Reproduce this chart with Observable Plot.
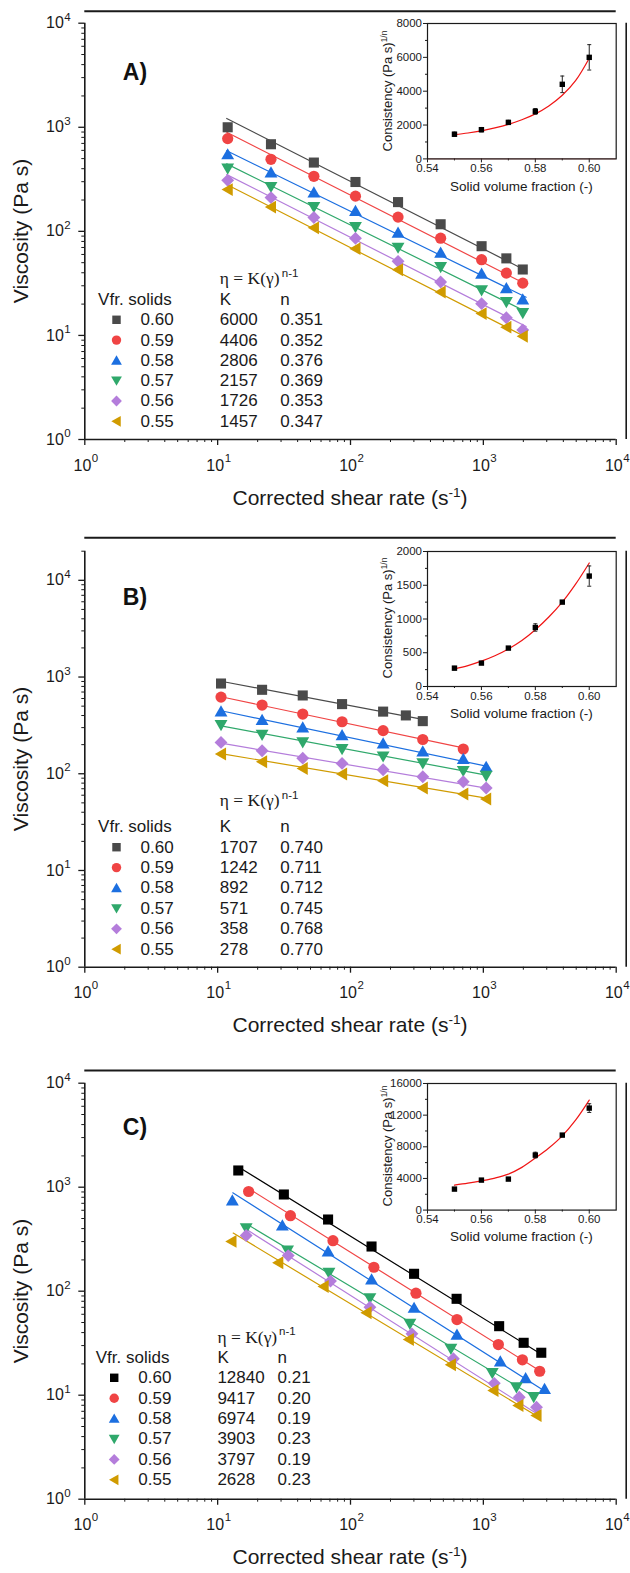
<!DOCTYPE html>
<html><head><meta charset="utf-8">
<script src="https://cdn.jsdelivr.net/npm/d3@7"></script>
<script src="https://cdn.jsdelivr.net/npm/@observablehq/plot@0.6"></script>
<style>
body{margin:0;background:#fff;}
#root{position:relative;width:630px;height:1573px;overflow:hidden;font-family:"Liberation Sans",Arial,sans-serif;color:#1a1a1a;}
.abs{position:absolute;white-space:nowrap;line-height:1;}
.abs sup{font-size:0.65em;vertical-align:0.55em;line-height:0;}
.plotbox{position:absolute;}
</style></head><body><div id="root"></div>
<script>
// ---------- shared categories / ticks ----------
const fractions = ["0.60","0.59","0.58","0.57","0.56","0.55"];
const insetFractions = [0.55,0.56,0.57,0.58,0.59,0.60];
const insetFitX = [0.55,0.555,0.56,0.565,0.57,0.575,0.58,0.585,0.59,0.595,0.60];
const xMajorTicks = [1,10,100,1000,10000];
const yMajorTicks = [1,10,100,1000,10000];
const insetXTicks = [0.54,0.56,0.58,0.60];
const insetXMinor = [0.55,0.57,0.59];
const colorsAB = ["#4a4a4a","#f04444","#1c6fe0","#2fa86b","#b47ddb","#d09b00"];
const colorsC  = ["#000000","#f04444","#1c6fe0","#2fa86b","#b47ddb","#d09b00"];

// ---------- Panel A ----------
const shearA = [11.9,25.2,53,109,228,477,970,1490,1980];
const viscA = [
  [1000,687,458,298,191,117,72,55,43],
  [778,492,338,218,137,86,53.4,39.7,31.8],
  [550,369,237,157,97,62.4,39.2,28.5,22.2],
  [401,267,171,110,69.7,45.4,27.1,20.9,16.4],
  [309,211,136,85.7,51.5,32.6,20.2,14.8,11.3],
  [252,171,108,68.2,42.8,26.1,16.2,12.0,9.8]
];
const fitA_x0 = [11.7,11.7,11.7,11.7,11.7,11.7];
const fitA_x1 = [2100,2100,2100,2100,2100,2100];
const fitA_y0 = [1216,895,595,445,351,282];
const fitA_y1 = [41.9,31.0,23.3,16.9,12.2,9.6];
const kA = ["6000","4406","2806","2157","1726","1457"];
const nA = ["0.351","0.352","0.376","0.369","0.353","0.347"];
const insetA_y = [1457,1726,2157,2806,4406,6000];
const insetA_err = [120,130,120,170,490,750];
const insetA_fit = [1430,1530,1660,1830,2040,2310,2660,3130,3760,4640,5950];
const insetA_yTicks = [0,2000,4000,6000,8000];
const insetA_yMinor = [1000,3000,5000,7000];

// ---------- Panel B ----------
const shearB_first = [10.6,21.6,43.7,86.4,176,261,350];
const shearB = [10.6,21.6,43.7,86.4,176,350,706,1050];
const viscB = [
  [857,738,645,525,439,401,350],
  [620,513,414,345,279,226,180],
  [440,361,301,251,206,170,142,118],
  [318,253,211,180,151,128,107,95.3],
  [211,173,145,128,110,93,82.6,71.2],
  [160,133,113.5,99.3,84.7,71.2,61.7,54.8]
];
const fitB_x0 = [10.6,10.6,10.6,10.6,10.6,10.6];
const fitB_x1 = [350,706,1050,1050,1050,1050];
const fitB_y0 = [905,625,448,313,207,161.5];
const fitB_y1 = [365,185,120,97,71,56];
const kB = ["1707","1242","892","571","358","278"];
const nB = ["0.740","0.711","0.712","0.745","0.768","0.770"];
const insetB_y = [272,347,569,874,1250,1636];
const insetB_err = [25,20,20,55,20,150];
const insetB_fit = [262,310,375,455,555,680,840,1030,1250,1520,1830];
const insetB_yTicks = [0,500,1000,1500,2000];
const insetB_yMinor = [250,750,1250,1750];

// ---------- Panel C ----------
const shearC = [
  [14.3,31.5,67.8,144,301,629,1315,2011,2729],
  [17.1,35.3,73.8,150,311,633,1297,1968,2656],
  [12.9,30.7,67.8,144,301,633,1342,2081,2889],
  [16.4,33.6,68.8,140,280,570,1167,1774,2393],
  [16.4,34.0,70.7,140,290,595,1209,1863,2512],
  [12.7,28.6,62.8,132,275,570,1192,1836,2512]
];
const viscC = [
  [1448,851,489,269,147,84.5,46.1,31.9,25.6],
  [909,532,306,170,95.7,53.4,30.7,21.9,17.0],
  [745,429,241,130,69.2,38.1,21.1,14.6,11.5],
  [403,246,150,85.7,48.6,27.9,16.3,11.9,9.6],
  [343,220,125,70.2,38.9,22.4,13.0,9.57,7.67],
  [301,188,111,62,34.3,19.6,11.1,7.96,6.38]
];
const fitC_x0 = [15.3,18.2,13.0,16.9,16.9,13.1];
const fitC_x1 = [2729,2656,2889,2393,2512,2512];
const fitC_y0 = [1488,925,884,435,385,362];
const fitC_y1 = [24.8,17.2,10.96,9.76,6.68,6.33];
const kC = ["12840","9417","6974","3903","3797","2628"];
const nC = ["0.21","0.20","0.19","0.23","0.19","0.23"];
const insetC_y = [2654,3791,3918,6951,9479,12891];
const insetC_err = [150,150,150,360,200,550];
const insetC_fit = [3160,3400,3700,4050,4550,5400,6570,7850,9390,11400,13900];
const insetC_yTicks = [0,4000,8000,12000,16000];
const insetC_yMinor = [2000,6000,10000,14000];

// ---------- symbols ----------
function mk(fn){ return {draw(ctx,size){ const r=Math.sqrt(size/Math.PI); fn(ctx,r); }}; }
const SYM = {
  square: mk((c,r)=>{const h=r*0.9;c.moveTo(-h,-h);c.lineTo(h,-h);c.lineTo(h,h);c.lineTo(-h,h);c.closePath();}),
  circle: mk((c,r)=>{c.moveTo(r,0);c.arc(0,0,r,0,2*Math.PI);}),
  up: mk((c,r)=>{const w=r*1.15;c.moveTo(0,-r*1.1);c.lineTo(w,r*0.9);c.lineTo(-w,r*0.9);c.closePath();}),
  down: mk((c,r)=>{const w=r*1.15;c.moveTo(0,r*1.1);c.lineTo(w,-r*0.9);c.lineTo(-w,-r*0.9);c.closePath();}),
  diamond: mk((c,r)=>{const h=r*1.15;c.moveTo(0,-h);c.lineTo(h,0);c.lineTo(0,h);c.lineTo(-h,0);c.closePath();}),
  left: mk((c,r)=>{const w=r*1.15;c.moveTo(-r*1.1,0);c.lineTo(r*0.9,-w);c.lineTo(r*0.9,w);c.closePath();}),
  cap: mk((c,r)=>{c.moveTo(-r,0);c.lineTo(r,0);})
};
const seriesSymbols = [SYM.square,SYM.circle,SYM.up,SYM.down,SYM.diamond,SYM.left];

const AX = "#1a1a1a";
const FONT = '"Liberation Sans", Arial, sans-serif';
const root = document.getElementById("root");

function minorTicks(maxVal){
  const out=[];
  for(let d=1; d<maxVal; d*=10) for(let k=2;k<10;k++) if(d*k<=maxVal) out.push(d*k);
  return out;
}

function addBox(node, left, top){
  const d=document.createElement("div"); d.className="plotbox";
  d.style.left=left+"px"; d.style.top=top+"px"; d.appendChild(node); root.appendChild(d);
}
function addText(html, x, y, css, rotate){
  const d=document.createElement("div"); d.className="abs";
  d.innerHTML=html; d.style.left=x+"px"; d.style.top=y+"px";
  d.style.transform="translate(-50%,-50%)"+(rotate?" rotate(-90deg)":"");
  Object.assign(d.style, css); root.appendChild(d);
}

function mainPanel(p){
  const marks=[];
  const T = (data, o) => Plot.text(data, Object.assign({lineAnchor:"middle", fill:AX}, o));
  marks.push(Plot.ruleY([p.yMax],{dy:p.topDy,stroke:AX,strokeWidth:2}));
  marks.push(Plot.ruleX([1e4],{dx:10,stroke:AX,strokeWidth:1.6}));
  marks.push(Plot.axisX({ticks:minorTicks(1e4),tickSize:3,tickFormat:()=>"",label:null,stroke:AX}));
  marks.push(Plot.axisX({ticks:xMajorTicks,tickSize:6,tickFormat:()=>"",label:null,stroke:AX,strokeWidth:1.3}));
  marks.push(Plot.axisY({ticks:minorTicks(p.yMax),tickSize:3,tickFormat:()=>"",label:null,stroke:AX}));
  marks.push(Plot.axisY({ticks:yMajorTicks,tickSize:6,tickFormat:()=>"",label:null,stroke:AX,strokeWidth:1.3}));
  marks.push(Plot.ruleX([1],{stroke:AX,strokeWidth:1.6}));
  marks.push(Plot.ruleY([1],{stroke:AX,strokeWidth:1.6}));
  // tick labels 10^k
  marks.push(T(xMajorTicks,{x:d=>d,frameAnchor:"bottom",text:()=>"10",textAnchor:"end",dx:6.5,dy:26,fontSize:16}));
  marks.push(T(xMajorTicks,{x:d=>d,frameAnchor:"bottom",text:d=>String(Math.round(Math.log10(d))),textAnchor:"start",dx:7,dy:18.5,fontSize:11.5}));
  marks.push(T(yMajorTicks,{y:d=>d,frameAnchor:"left",text:()=>"10",textAnchor:"end",dx:-21,fontSize:16}));
  marks.push(T(yMajorTicks,{y:d=>d,frameAnchor:"left",text:d=>String(Math.round(Math.log10(d))),textAnchor:"start",dx:-20.5,dy:-6,fontSize:11.5}));
  // fit lines
  for(let i=0;i<6;i++){
    const seg=[{x:p.fx0[i],y:p.fy0[i]},{x:p.fx1[i],y:p.fy1[i]}];
    marks.push(Plot.line(seg,{x:"x",y:"y",stroke:p.colors[i],strokeWidth:1.2}));
  }
  // data points
  for(let i=0;i<6;i++){
    const pts=p.visc[i].map((v,j)=>({x:p.shearOf(i)[j],y:v}));
    marks.push(Plot.dot(pts,{x:"x",y:"y",r:5.6,symbol:seriesSymbols[i],fill:p.colors[i]}));
  }
  // panel label
  marks.push(T([p.label],{frameAnchor:"top-left",textAnchor:"middle",dx:50.2,dy:p.labelDy,text:d=>d,fontWeight:"bold",fontSize:23,fill:"#111"}));
  // legend
  const L=p.legend;
  marks.push(T(["\u03b7 = K(\u03b3)"],{frameAnchor:"bottom-left",textAnchor:"start",dx:L.dxK,dy:L.dyEta,text:d=>d,fontSize:17.5,fontFamily:'"Liberation Serif", "Times New Roman", serif'}));
  marks.push(T(["n-1"],{frameAnchor:"bottom-left",textAnchor:"start",dx:L.dxN+1.5,dy:L.dyEta-5.5,text:d=>d,fontSize:11.5}));
  marks.push(T(["Vfr. solids"],{frameAnchor:"bottom-left",textAnchor:"start",dx:L.dxVfr,dy:L.dyHead,text:d=>d,fontSize:17}));
  marks.push(T(["K"],{frameAnchor:"bottom-left",textAnchor:"start",dx:L.dxK,dy:L.dyHead,text:d=>d,fontSize:17}));
  marks.push(T(["n"],{frameAnchor:"bottom-left",textAnchor:"start",dx:L.dxN,dy:L.dyHead,text:d=>d,fontSize:17}));
  for(let i=0;i<6;i++){
    const dy=L.dyRow0+i*L.step;
    marks.push(Plot.dot([fractions[i]],{frameAnchor:"bottom-left",dx:L.dxMarker,dy,r:4.7,symbol:seriesSymbols[i],fill:p.colors[i]}));
    marks.push(T([fractions[i]],{frameAnchor:"bottom-left",textAnchor:"start",dx:L.dxVal,dy,text:d=>d,fontSize:17}));
    marks.push(T([p.k[i]],{frameAnchor:"bottom-left",textAnchor:"start",dx:L.dxK,dy,text:d=>d,fontSize:17}));
    marks.push(T([p.n[i]],{frameAnchor:"bottom-left",textAnchor:"start",dx:L.dxN,dy,text:d=>d,fontSize:17}));
  }
  const svg=Plot.plot({
    width:630,height:p.height,
    marginLeft:84.3,marginRight:14.3,marginTop:p.frameTop-p.top,marginBottom:p.top+p.height-p.frameBottom,
    x:{type:"log",domain:[1,1e4],label:null},
    y:{type:"log",domain:[1,p.yMax],label:null},
    style:{fontFamily:FONT,background:"transparent",overflow:"visible",color:AX},
    marks
  });
  addBox(svg,0,p.top);
  // titles (HTML, with superscripts)
  addText("Corrected shear rate (s<sup>-1</sup>)",350,p.frameBottom+57.7,{fontSize:"21px"});
  addText("Viscosity (Pa s)",20,(p.frameTop+p.frameBottom)/2,{fontSize:"21px"},true);
}

function insetPanel(p){
  const pts=insetFractions.map((f,i)=>({x:f,y:p.iy[i],lo:p.iy[i]-p.ie[i],hi:p.iy[i]+p.ie[i]}));
  const fit=insetFitX.map((f,i)=>({x:f,y:p.ifit[i]}));
  const mt=15, mb=50, h=p.insetBottom-p.insetTop;
  const marks=[
    Plot.axisX({ticks:insetXMinor,tickSize:2,tickFormat:()=>"",label:null,stroke:AX}),
    Plot.axisX({ticks:insetXTicks,tickSize:4,tickPadding:1,tickFormat:d3.format(".2f"),label:null,stroke:AX,fill:AX}),
    Plot.axisY({ticks:p.iyMinor,tickSize:2,tickFormat:()=>"",label:null,stroke:AX}),
    Plot.axisY({ticks:p.iyTicks,tickSize:4,tickPadding:1.5,tickFormat:d=>String(d),label:null,stroke:AX,fill:AX}),
  ];
  if(p.zeroRed) marks.push(Plot.ruleY([0],{stroke:"#e06060",strokeOpacity:0.7,strokeWidth:1}));
  marks.push(
    Plot.frame({stroke:AX,strokeWidth:1.2}),
    Plot.line(fit,{x:"x",y:"y",stroke:"#f01414",strokeWidth:1.2,curve:"catmull-rom"}),
    Plot.ruleX(pts,{x:"x",y1:"lo",y2:"hi",stroke:"#222",strokeWidth:1}),
    Plot.dot(pts,{x:"x",y:"lo",r:2,symbol:SYM.cap,stroke:"#222",strokeWidth:1}),
    Plot.dot(pts,{x:"x",y:"hi",r:2,symbol:SYM.cap,stroke:"#222",strokeWidth:1}),
    Plot.dot(pts,{x:"x",y:"y",r:3,symbol:SYM.square,fill:"#000"})
  );
  const svg=Plot.plot({
    width:290,height:h+mt+mb,
    marginLeft:87,marginRight:14.3,marginTop:mt,marginBottom:mb,
    x:{domain:[0.54,0.61],label:null},
    y:{domain:[0,p.iyTicks[p.iyTicks.length-1]],label:null},
    style:{fontFamily:FONT,fontSize:"11.5px",background:"transparent",overflow:"visible",color:AX},
    marks
  });
  addBox(svg,340,p.insetTop-mt);
  addText("Solid volume fraction (-)",521.4,p.insetBottom+28,{fontSize:"13.5px"});
  addText("Consistency (Pa s)<sup>1/n</sup>",387,(p.insetTop+p.insetBottom)/2,{fontSize:"13px"},true);
}

const legendAB={dxVfr:13.3,dxMarker:31.7,dxVal:55.7,dxK:135,dxN:195.5};
const panels=[
  {label:"A)",top:0,height:480,frameTop:22.7,frameBottom:439,topDy:-12,yMax:1e4,labelDy:49,
   colors:colorsAB,visc:viscA,shearOf:()=>shearA,fx0:fitA_x0,fx1:fitA_x1,fy0:fitA_y0,fy1:fitA_y1,k:kA,n:nA,
   legend:Object.assign({dyEta:-160.7,dyHead:-140,dyRow0:-119.7,step:20.3},legendAB),
   insetTop:23.3,insetBottom:158.7,iy:insetA_y,ie:insetA_err,ifit:insetA_fit,iyTicks:insetA_yTicks,iyMinor:insetA_yMinor,zeroRed:true},
  {label:"B)",top:525,height:483,frameTop:550.7,frameBottom:966.7,topDy:-13.4,yMax:2e4,labelDy:46,
   colors:colorsAB,visc:viscB,shearOf:i=>i===0?shearB_first:shearB,fx0:fitB_x0,fx1:fitB_x1,fy0:fitB_y0,fy1:fitB_y1,k:kB,n:nB,
   legend:Object.assign({dyEta:-166.7,dyHead:-141,dyRow0:-120,step:20.4},legendAB),
   insetTop:550.7,insetBottom:685.7,iy:insetB_y,ie:insetB_err,ifit:insetB_fit,iyTicks:insetB_yTicks,iyMinor:insetB_yMinor,zeroRed:false},
  {label:"C)",top:1055,height:485,frameTop:1082.7,frameBottom:1498.7,topDy:-12.7,yMax:1e4,labelDy:44,
   colors:colorsC,visc:viscC,shearOf:i=>shearC[i],fx0:fitC_x0,fx1:fitC_x1,fy0:fitC_y0,fy1:fitC_y1,k:kC,n:nC,
   legend:{dxVfr:10.9,dxMarker:29.4,dxVal:53.5,dxK:132.6,dxN:192.8,dyEta:-162,dyHead:-142,dyRow0:-121.4,step:20.4},
   insetTop:1082.7,insetBottom:1209.3,iy:insetC_y,ie:insetC_err,ifit:insetC_fit,iyTicks:insetC_yTicks,iyMinor:insetC_yMinor,zeroRed:false}
];
for(const p of panels){ mainPanel(p); insetPanel(p); }
</script></body></html>
